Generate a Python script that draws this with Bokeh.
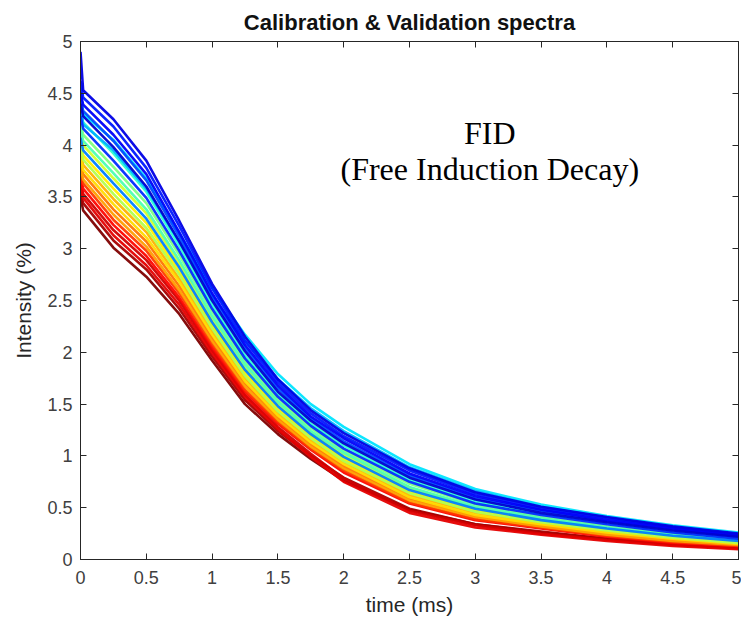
from bokeh.plotting import figure
from bokeh.models import (LinearAxis, FixedTicker, NumeralTickFormatter, Range1d,
                          Label, Title, CustomJSTickFormatter)
from bokeh.embed import file_html
from bokeh.resources import INLINE

# ---- data ----
time_ms = [0, 0.02, 0.25, 0.5, 0.75, 1.0, 1.25, 1.5, 1.75, 2.0, 2.5, 3.0, 3.5, 4.0, 4.5, 5.0]

# one row of intensities (%) per spectrum, same order as time_ms
s01 = [4.90, 4.53, 4.25, 3.85, 3.27, 2.66, 2.15, 1.74, 1.44, 1.22, 0.88, 0.65, 0.51, 0.41, 0.32, 0.25]
s02 = [4.62, 4.46, 4.18, 3.78, 3.22, 2.62, 2.11, 1.71, 1.41, 1.19, 0.86, 0.63, 0.49, 0.40, 0.31, 0.24]
s03 = [4.51, 4.39, 4.10, 3.72, 3.16, 2.57, 2.07, 1.68, 1.38, 1.17, 0.83, 0.61, 0.48, 0.38, 0.30, 0.23]
s04 = [4.45, 4.33, 4.04, 3.66, 3.12, 2.53, 2.04, 1.65, 1.36, 1.14, 0.81, 0.59, 0.47, 0.37, 0.29, 0.22]
s05 = [4.40, 4.28, 3.98, 3.60, 3.07, 2.50, 2.01, 1.62, 1.34, 1.12, 0.79, 0.58, 0.45, 0.36, 0.28, 0.22]
s06 = [4.34, 4.22, 3.92, 3.55, 3.03, 2.46, 1.97, 1.60, 1.31, 1.10, 0.77, 0.56, 0.44, 0.35, 0.27, 0.21]
s07 = [4.28, 4.16, 3.85, 3.49, 2.98, 2.42, 1.94, 1.57, 1.29, 1.07, 0.75, 0.54, 0.43, 0.34, 0.26, 0.20]
s08 = [4.22, 4.10, 3.79, 3.44, 2.94, 2.39, 1.91, 1.54, 1.27, 1.05, 0.73, 0.53, 0.41, 0.32, 0.25, 0.19]
s09 = [4.16, 4.04, 3.73, 3.38, 2.89, 2.35, 1.88, 1.52, 1.24, 1.03, 0.70, 0.51, 0.40, 0.31, 0.24, 0.19]
s10 = [4.12, 4.00, 3.68, 3.34, 2.86, 2.32, 1.85, 1.50, 1.22, 1.01, 0.69, 0.50, 0.39, 0.30, 0.23, 0.18]
s11 = [4.07, 3.95, 3.63, 3.29, 2.82, 2.29, 1.83, 1.48, 1.21, 0.99, 0.67, 0.49, 0.38, 0.30, 0.23, 0.18]
s12 = [4.02, 3.90, 3.58, 3.25, 2.78, 2.26, 1.80, 1.45, 1.19, 0.97, 0.65, 0.47, 0.37, 0.29, 0.22, 0.17]
s13 = [3.98, 3.86, 3.53, 3.20, 2.75, 2.23, 1.77, 1.43, 1.17, 0.95, 0.64, 0.46, 0.36, 0.28, 0.21, 0.16]
s14 = [3.93, 3.81, 3.48, 3.16, 2.71, 2.20, 1.75, 1.41, 1.15, 0.94, 0.62, 0.45, 0.35, 0.27, 0.20, 0.16]
s15 = [3.88, 3.76, 3.43, 3.11, 2.68, 2.17, 1.72, 1.39, 1.13, 0.92, 0.60, 0.43, 0.34, 0.26, 0.20, 0.15]
s16 = [3.84, 3.72, 3.38, 3.07, 2.64, 2.14, 1.70, 1.37, 1.11, 0.90, 0.59, 0.42, 0.33, 0.25, 0.19, 0.15]
s17 = [3.79, 3.67, 3.33, 3.02, 2.60, 2.11, 1.67, 1.35, 1.09, 0.88, 0.57, 0.41, 0.32, 0.24, 0.18, 0.14]
s18 = [3.75, 3.63, 3.28, 2.98, 2.57, 2.08, 1.64, 1.33, 1.07, 0.86, 0.55, 0.39, 0.31, 0.23, 0.17, 0.13]
s19 = [3.70, 3.58, 3.23, 2.93, 2.53, 2.05, 1.62, 1.31, 1.06, 0.84, 0.54, 0.38, 0.30, 0.22, 0.16, 0.13]
s20 = [3.65, 3.53, 3.18, 2.89, 2.50, 2.02, 1.59, 1.28, 1.02, 0.78, 0.47, 0.33, 0.25, 0.19, 0.14, 0.11]
s21 = [3.61, 3.49, 3.13, 2.84, 2.46, 1.99, 1.57, 1.26, 0.99, 0.75, 0.45, 0.31, 0.24, 0.18, 0.13, 0.10]
s22 = [3.55, 3.44, 3.08, 2.80, 2.42, 1.96, 1.54, 1.24, 1.00, 0.79, 0.49, 0.34, 0.27, 0.20, 0.15, 0.11]
s23 = [3.50, 3.37, 3.01, 2.73, 2.37, 1.92, 1.50, 1.21, 0.97, 0.76, 0.48, 0.34, 0.26, 0.20, 0.15, 0.12]
s24 = [4.55, 4.30, 4.05, 3.68, 3.15, 2.62, 2.17, 1.79, 1.50, 1.28, 0.92, 0.68, 0.53, 0.42, 0.33, 0.26]
s25 = [4.40, 4.20, 3.95, 3.58, 3.07, 2.55, 2.11, 1.74, 1.46, 1.24, 0.89, 0.66, 0.51, 0.40, 0.31, 0.24]

spectra = [s01, s02, s03, s04, s05, s06, s07, s08, s09, s10, s11, s12, s13,
           s14, s15, s16, s17, s18, s19, s20, s21, s22, s23, s24, s25]

# colour position of each spectrum on the jet colour map (0 = dark blue, 1 = dark red)
color_pos = [0.10, 0.15, 0.12, 0.20, 0.08, 0.42, 0.17, 0.50, 0.45, 0.58, 0.25, 0.64, 0.55,
             0.70, 0.66, 0.76, 0.72, 0.82, 0.87, 0.92, 0.90, 0.96, 1.00, 0.35, 0.30]

x_ticks = [0, 0.5, 1, 1.5, 2, 2.5, 3, 3.5, 4, 4.5, 5]
y_ticks = [0, 0.5, 1, 1.5, 2, 2.5, 3, 3.5, 4, 4.5, 5]


def jet(c):
    def cl(v):
        return max(0.0, min(1.0, v))
    r = cl(1.5 - abs(4 * c - 3))
    g = cl(1.5 - abs(4 * c - 2))
    b = cl(1.5 - abs(4 * c - 1))
    return "#%02x%02x%02x" % (int(r * 255), int(g * 255), int(b * 255))


AX = "#262626"
TICK_TXT = "#404040"

p = figure(width=741, height=623, output_backend="svg", toolbar_location=None,
           x_range=Range1d(0, 5), y_range=Range1d(0, 5),
           min_border_left=80, min_border_right=3, min_border_top=41, min_border_bottom=64)
p.title.visible = False
p.background_fill_color = "white"
p.border_fill_color = "white"
p.grid.visible = False
p.outline_line_color = AX
p.outline_line_width = 1

# draw red first so blue sits on top like the original
order = sorted(range(len(spectra)), key=lambda i: -color_pos[i])
for i in order:
    p.line(time_ms, spectra[i], line_color=jet(color_pos[i]), line_width=2.6, line_alpha=0.95)

for ax in (p.xaxis[0], p.yaxis[0]):
    ax.major_tick_in = 6
    ax.major_tick_out = 0
    ax.minor_tick_line_color = None
    ax.axis_line_color = AX
    ax.major_tick_line_color = AX
    ax.major_label_text_color = TICK_TXT
    ax.major_label_text_font = "Liberation Sans"
    ax.major_label_text_font_size = "18px"
    ax.axis_label_text_font = "Liberation Sans"
    ax.axis_label_text_font_size = "21px"
    ax.axis_label_text_font_style = "normal"
    ax.axis_label_text_color = AX
    ax.formatter = NumeralTickFormatter(format="0.[0]")

p.xaxis[0].ticker = FixedTicker(ticks=x_ticks)
p.yaxis[0].ticker = FixedTicker(ticks=y_ticks)
p.xaxis[0].axis_label = "time (ms)"
p.yaxis[0].axis_label = "Intensity (%)"
p.xaxis[0].major_label_standoff = 11
p.yaxis[0].major_label_standoff = 8
p.xaxis[0].axis_label_standoff = 6
p.yaxis[0].axis_label_standoff = 9

blank = CustomJSTickFormatter(code="return ''")
top = LinearAxis(ticker=FixedTicker(ticks=x_ticks), major_tick_in=6, major_tick_out=0,
                 minor_tick_line_color=None, formatter=blank,
                 axis_line_color=AX, major_tick_line_color=AX, major_label_standoff=0)
right = LinearAxis(ticker=FixedTicker(ticks=y_ticks), major_tick_in=6, major_tick_out=0,
                   minor_tick_line_color=None, formatter=blank,
                   axis_line_color=AX, major_tick_line_color=AX, major_label_standoff=0)
p.add_layout(top, "above")
p.add_layout(right, "right")

p.add_layout(Title(text="Calibration & Validation spectra", align="center",
                   text_font="Liberation Sans", text_font_size="22px",
                   text_font_style="bold", text_color="#111111", standoff=14), "above")

p.add_layout(Label(x=3.11, y=4.12, text="FID", text_align="center", text_baseline="middle",
                   text_font="Liberation Serif", text_font_size="32px", text_color="black"))
p.add_layout(Label(x=3.11, y=3.77, text="(Free Induction Decay)", text_align="center",
                   text_baseline="middle",
                   text_font="Liberation Serif", text_font_size="32px", text_color="black"))

open("out.html", "w").write(file_html(p, INLINE))
